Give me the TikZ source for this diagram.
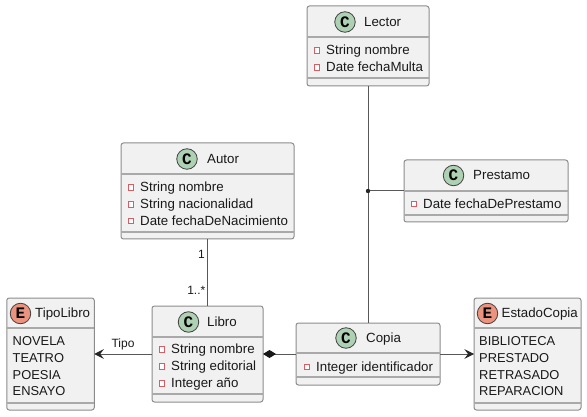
\documentclass[tikz,border=0pt]{standalone}
\usepackage{fontspec}
\setmainfont{Liberation Sans}
\newfontfamily\dotfont{Liberation Mono}
\usetikzlibrary{arrows.meta}
\definecolor{boxfill}{HTML}{F1F1F1}
\definecolor{boxline}{HTML}{8C8C8C}
\definecolor{connline}{HTML}{585858}
\definecolor{classgreen}{HTML}{ADD1B2}
\definecolor{enumred}{HTML}{EB937F}
\definecolor{privred}{HTML}{C82930}
\tikzset{
	umlbox/.style={draw=boxline, fill=boxfill, line width=1pt, rounded corners=2.5pt, inner sep=0pt, outer sep=0pt},
	sepline/.style={draw=boxline!75, line width=1.1pt},
	classdot/.style={circle, draw=black!75, fill=classgreen, line width=0.8pt, minimum size=20.5pt, inner sep=0pt, font=\dotfont\bfseries\fontsize{16}{16}\selectfont},
	enumdot/.style={classdot, fill=enumred},
	title/.style={anchor=mid west, inner sep=0pt, yshift=-1.6pt, font=\fontsize{13.3}{16}\selectfont, text=black!90},
	attr/.style={title},
	enumitem/.style={title, font=\fontsize{12.9}{16}\selectfont},
	priv/.style={rectangle, draw=privred!75, fill=white, line width=0.8pt, minimum size=5.5pt, inner sep=0pt},
	lbl/.style={inner sep=0pt, font=\fontsize{12}{14}\selectfont, text=black!90},
	conn/.style={draw=connline, line width=1pt},
	openhead/.style={-{Stealth[length=9.5pt, width=9.5pt, inset=3.5pt, color=black!85]}},
}
\begin{document}
\begin{tikzpicture}[x=1pt, y=-1pt]
	\useasboundingbox (0,0) rectangle (587,417);
	
	% Klassen: Rahmen
	\node[umlbox, minimum width=122pt, minimum height=80pt] (lector) at (368,46) {};
	\node[umlbox, minimum width=164pt, minimum height=62pt] (prestamo) at (486,191) {};
	\node[umlbox, minimum width=173pt, minimum height=96pt] (autor) at (207.5,191) {};
	\node[umlbox, minimum width=111pt, minimum height=96pt] (libro) at (207.5,354) {};
	\node[umlbox, minimum width=144pt, minimum height=62pt] (copia) at (368,354) {};
	\node[umlbox, minimum width=87.5pt, minimum height=112pt] (tipolibro) at (50.5,354) {};
	\node[umlbox, minimum width=107pt, minimum height=112pt] (estadocopia) at (527.5,354) {};
	
	% Unterteilung
	\draw[sepline] (lector.west |- 0,37) -- (lector.east |- 0,37);
	\draw[sepline] (lector.west |- 0,78) -- (lector.east |- 0,78);
	\draw[sepline] (prestamo.west |- 0,191) -- (prestamo.east |- 0,191);
	\draw[sepline] (prestamo.west |- 0,215) -- (prestamo.east |- 0,215);
	\draw[sepline] (autor.west |- 0,174) -- (autor.east |- 0,174);
	\draw[sepline] (autor.west |- 0,232) -- (autor.east |- 0,232);
	\draw[sepline] (libro.west |- 0,337) -- (libro.east |- 0,337);
	\draw[sepline] (libro.west |- 0,394) -- (libro.east |- 0,394);
	\draw[sepline] (copia.west |- 0,353) -- (copia.east |- 0,353);
	\draw[sepline] (copia.west |- 0,377) -- (copia.east |- 0,377);
	\draw[sepline] (tipolibro.west |- 0,328) -- (tipolibro.east |- 0,328);
	\draw[sepline] (tipolibro.west |- 0,403) -- (tipolibro.east |- 0,403);
	\draw[sepline] (estadocopia.west |- 0,328) -- (estadocopia.east |- 0,328);
	\draw[sepline] (estadocopia.west |- 0,403) -- (estadocopia.east |- 0,403);
	
	% Lector
	\node[classdot] (lectorDot) at (345,22) {C};
	\node[title] (lectorTitle) at (364,22) {Lector};
	\node[priv] (lectorMark1) at (317,50.5) {};
	\node[attr] (lectorAttr1) at (326,50.5) {String nombre};
	\node[priv] (lectorMark2) at (317,67.5) {};
	\node[attr] (lectorAttr2) at (326,67.5) {Date fechaMulta};
	
	% Prestamo
	\node[classdot] (prestamoDot) at (453.5,175.5) {C};
	\node[title] (prestamoTitle) at (473,175.5) {Prestamo};
	\node[priv] (prestamoMark1) at (414,204) {};
	\node[attr] (prestamoAttr1) at (423,204) {Date fechaDePrestamo};
	
	% Autor
	\node[classdot] (autorDot) at (187,159) {C};
	\node[title] (autorTitle) at (207,159) {Autor};
	\node[priv] (autorMark1) at (131,187.5) {};
	\node[attr] (autorAttr1) at (140,187.5) {String nombre};
	\node[priv] (autorMark2) at (131,204.5) {};
	\node[attr] (autorAttr2) at (140,204.5) {String nacionalidad};
	\node[priv] (autorMark3) at (131,221) {};
	\node[attr] (autorAttr3) at (140,221) {Date fechaDeNacimiento};
	
	% Libro
	\node[classdot] (libroDot) at (188.5,322) {C};
	\node[title] (libroTitle) at (207,322) {Libro};
	\node[priv] (libroMark1) at (162,349.5) {};
	\node[attr] (libroAttr1) at (171,349.5) {String nombre};
	\node[priv] (libroMark2) at (162,366.5) {};
	\node[attr] (libroAttr2) at (171,366.5) {String editorial};
	\node[priv] (libroMark3) at (162,383.5) {};
	\node[attr] (libroAttr3) at (171,383.5) {Integer año};
	
	% Copia
	\node[classdot] (copiaDot) at (346,338) {C};
	\node[title] (copiaTitle) at (366,338) {Copia};
	\node[priv] (copiaMark1) at (307,367) {};
	\node[attr] (copiaAttr1) at (316,367) {Integer identificador};
	
	% Aufzählungen
	\node[enumdot] (tipolibroDot) at (20.5,313.5) {E};
	\node[title] (tipolibroTitle) at (35,313.5) {TipoLibro};
	\node[enumitem] (novela) at (12.5,341.5) {NOVELA};
	\node[enumitem] (teatro) at (12.5,358.5) {TEATRO};
	\node[enumitem] (poesia) at (12.5,375) {POESIA};
	\node[enumitem] (ensayo) at (12.5,391.5) {ENSAYO};
	
	\node[enumdot] (estadoDot) at (487.5,313.5) {E};
	\node[title] (estadoTitle) at (501.5,313.5) {EstadoCopia};
	\node[enumitem] (biblioteca) at (479,341.5) {BIBLIOTECA};
	\node[enumitem] (prestado) at (479,358.5) {PRESTADO};
	\node[enumitem] (retrasado) at (479,375) {RETRASADO};
	\node[enumitem] (reparacion) at (479,391.5) {REPARACION};
	
	% Verbindungen
	\coordinate (assocPoint) at (lector.south |- prestamo.west);
	\draw[conn] (lector) -- (copia);
	\draw[conn] (prestamo) -- (assocPoint);
	\fill[black!85] (assocPoint) circle (2.2pt);
	\draw[conn] (autor) -- (libro);
	\draw[conn, openhead] (libro) -- (tipolibro);
	\draw[conn, {Diamond[length=13pt, width=8pt, color=black!90]}-] (libro) -- (copia);
	\draw[conn, openhead] (copia) -- (estadocopia);
	
	% Beschriftungen
	\node[lbl, anchor=mid east] (autorMult) at (205,256) {1};
	\node[lbl, anchor=mid east] (libroMult) at (205.5,292) {1..*};
	\node[lbl] (tipoLabel) at (123,344) {Tipo};
\end{tikzpicture}
\end{document}
